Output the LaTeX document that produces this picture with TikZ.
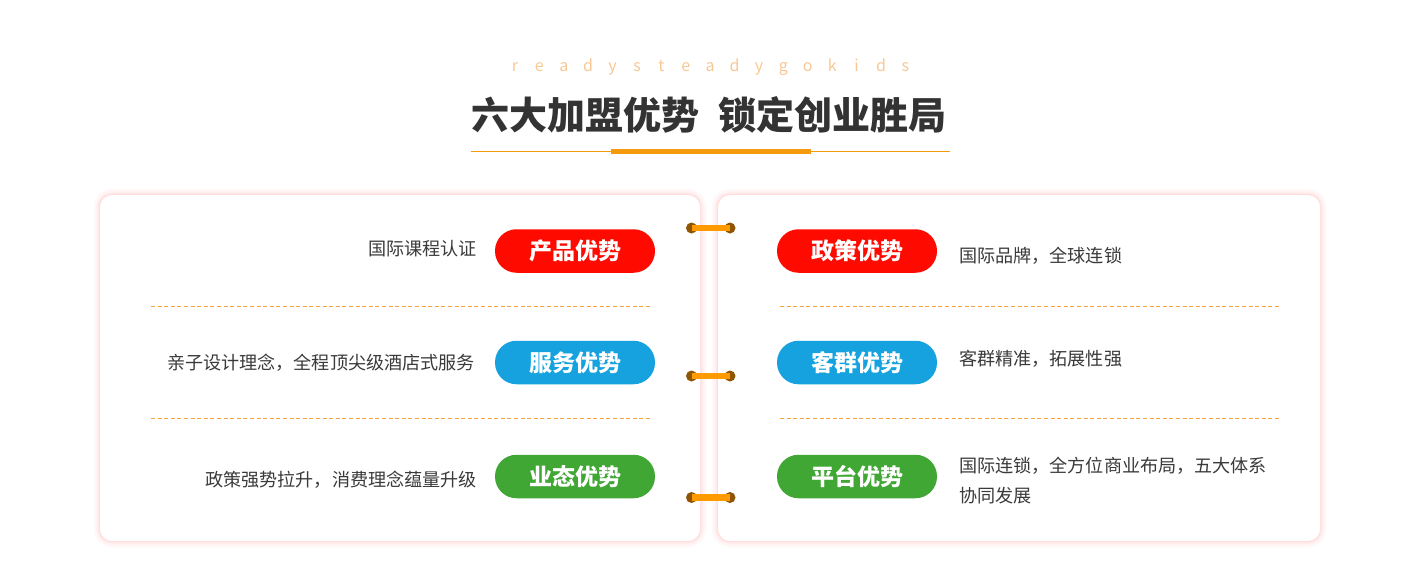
\documentclass[tikz,border=0pt]{standalone}
\usepackage{fontspec}
\setmainfont{Noto Sans CJK SC}
\definecolor{txt}{HTML}{3A3A3A}
\definecolor{titletxt}{HTML}{333333}
\definecolor{peach}{HTML}{F8C894}
\definecolor{orng}{HTML}{F59A0C}
\definecolor{dashorng}{HTML}{F7A53A}
\definecolor{pillred}{HTML}{FE0A00}
\definecolor{pillblue}{HTML}{15A2DF}
\definecolor{pillgreen}{HTML}{40A634}
\definecolor{barorng}{HTML}{FF9A00}
\definecolor{ringbrown}{HTML}{8E5600}
\definecolor{glow}{HTML}{FFCFCF}
\begin{document}
\begin{tikzpicture}[x=1pt,y=-1pt,
  pill/.style={rounded corners=21.5pt,minimum width=160pt,minimum height=43.5pt,inner sep=0pt,text=white,font=\fontsize{23}{23}\selectfont\bfseries},
  body/.style={text=txt,font=\fontsize{18.1}{30}\selectfont,inner sep=0pt},
  sep/.style={draw=dashorng,line width=1pt,dash pattern=on 4pt off 2.6pt},
  ring/.style={circle,fill=ringbrown,minimum size=11pt,inner sep=0pt},
  link/.style={draw=barorng,line width=6.5pt},
  letter/.style={text=peach,font=\fontsize{16}{16}\selectfont,inner sep=0pt}]
\useasboundingbox (0,0) rectangle (1422,560);
\fill[white] (0,0) rectangle (1422,560);
% heading
\foreach \ch [count=\i] in {r,e,a,d,y,s,t,e,a,d,y,g,o,k,i,d,s}
  \node[letter,anchor=base] (l\i) at ({515+(\i-1)*24.4},71) {\ch};
\node[text=titletxt,font=\fontsize{38}{38}\selectfont\bfseries,inner sep=0pt] (title) at (709,115) {六大加盟优势\hspace{20pt}锁定创业胜局};
\draw[orng,line width=1pt] (471,151.5) coordinate (ul1) -- (950,151.5) coordinate (ul2);
\draw[orng,line width=5pt] (611,151.5) coordinate (ub1) -- (811,151.5) coordinate (ub2);
% cards with glow
\foreach \xa/\xb/\nm in {100/700/lc,718/1320/rc}{
  \foreach \w/\o in {13/0.10,9/0.15,5/0.25,2/0.5}
    \draw[glow,line width=\w pt,opacity=\o,rounded corners=12pt] (\xa,195) rectangle (\xb,541);
  \fill[white,rounded corners=12pt] (\xa,195) rectangle (\xb,541);
}
% separators
\foreach \y in {306.5,418.5}{
  \draw[sep] (151,\y) -- (650,\y);
  \draw[sep] (780,\y) -- (1280,\y);
}
% pills left
\node[pill,fill=pillred] (p1) at (575,251) {产品优势};
\node[pill,fill=pillblue] (p2) at (575,362.5) {服务优势};
\node[pill,fill=pillgreen] (p3) at (575,476.5) {业态优势};
% pills right
\node[pill,fill=pillred] (p4) at (857,251) {政策优势};
\node[pill,fill=pillblue] (p5) at (857,362.5) {客群优势};
\node[pill,fill=pillgreen] (p6) at (857,476.5) {平台优势};
% left texts
\node[body,anchor=east] (t1) at (477,249) {国际课程认证};
\node[body,anchor=east] (t2) at (475,362.5) {亲子设计理念，全程顶尖级酒店式服务};
\node[body,anchor=east] (t3) at (477,480) {政策强势拉升，消费理念蕴量升级};
% right texts
\node[body,anchor=west] (t4) at (959,255.5) {国际品牌，全球连锁};
\node[body,anchor=west] (t5) at (959,358.5) {客群精准，拓展性强};
\node[body,anchor=west] (t6) at (959,466) {国际连锁，全方位商业布局，五大体系};
\node[body,anchor=west] (t7) at (959,496) {协同发展};
% connectors
\foreach \y/\k in {228/1,376/2,497.5/3}{
  \node[ring] (a\k) at (691.5,\y) {};
  \node[ring] (b\k) at (730,\y) {};
  \draw[link] (a\k.center) -- (b\k.center);
}
\end{tikzpicture}
\end{document}
